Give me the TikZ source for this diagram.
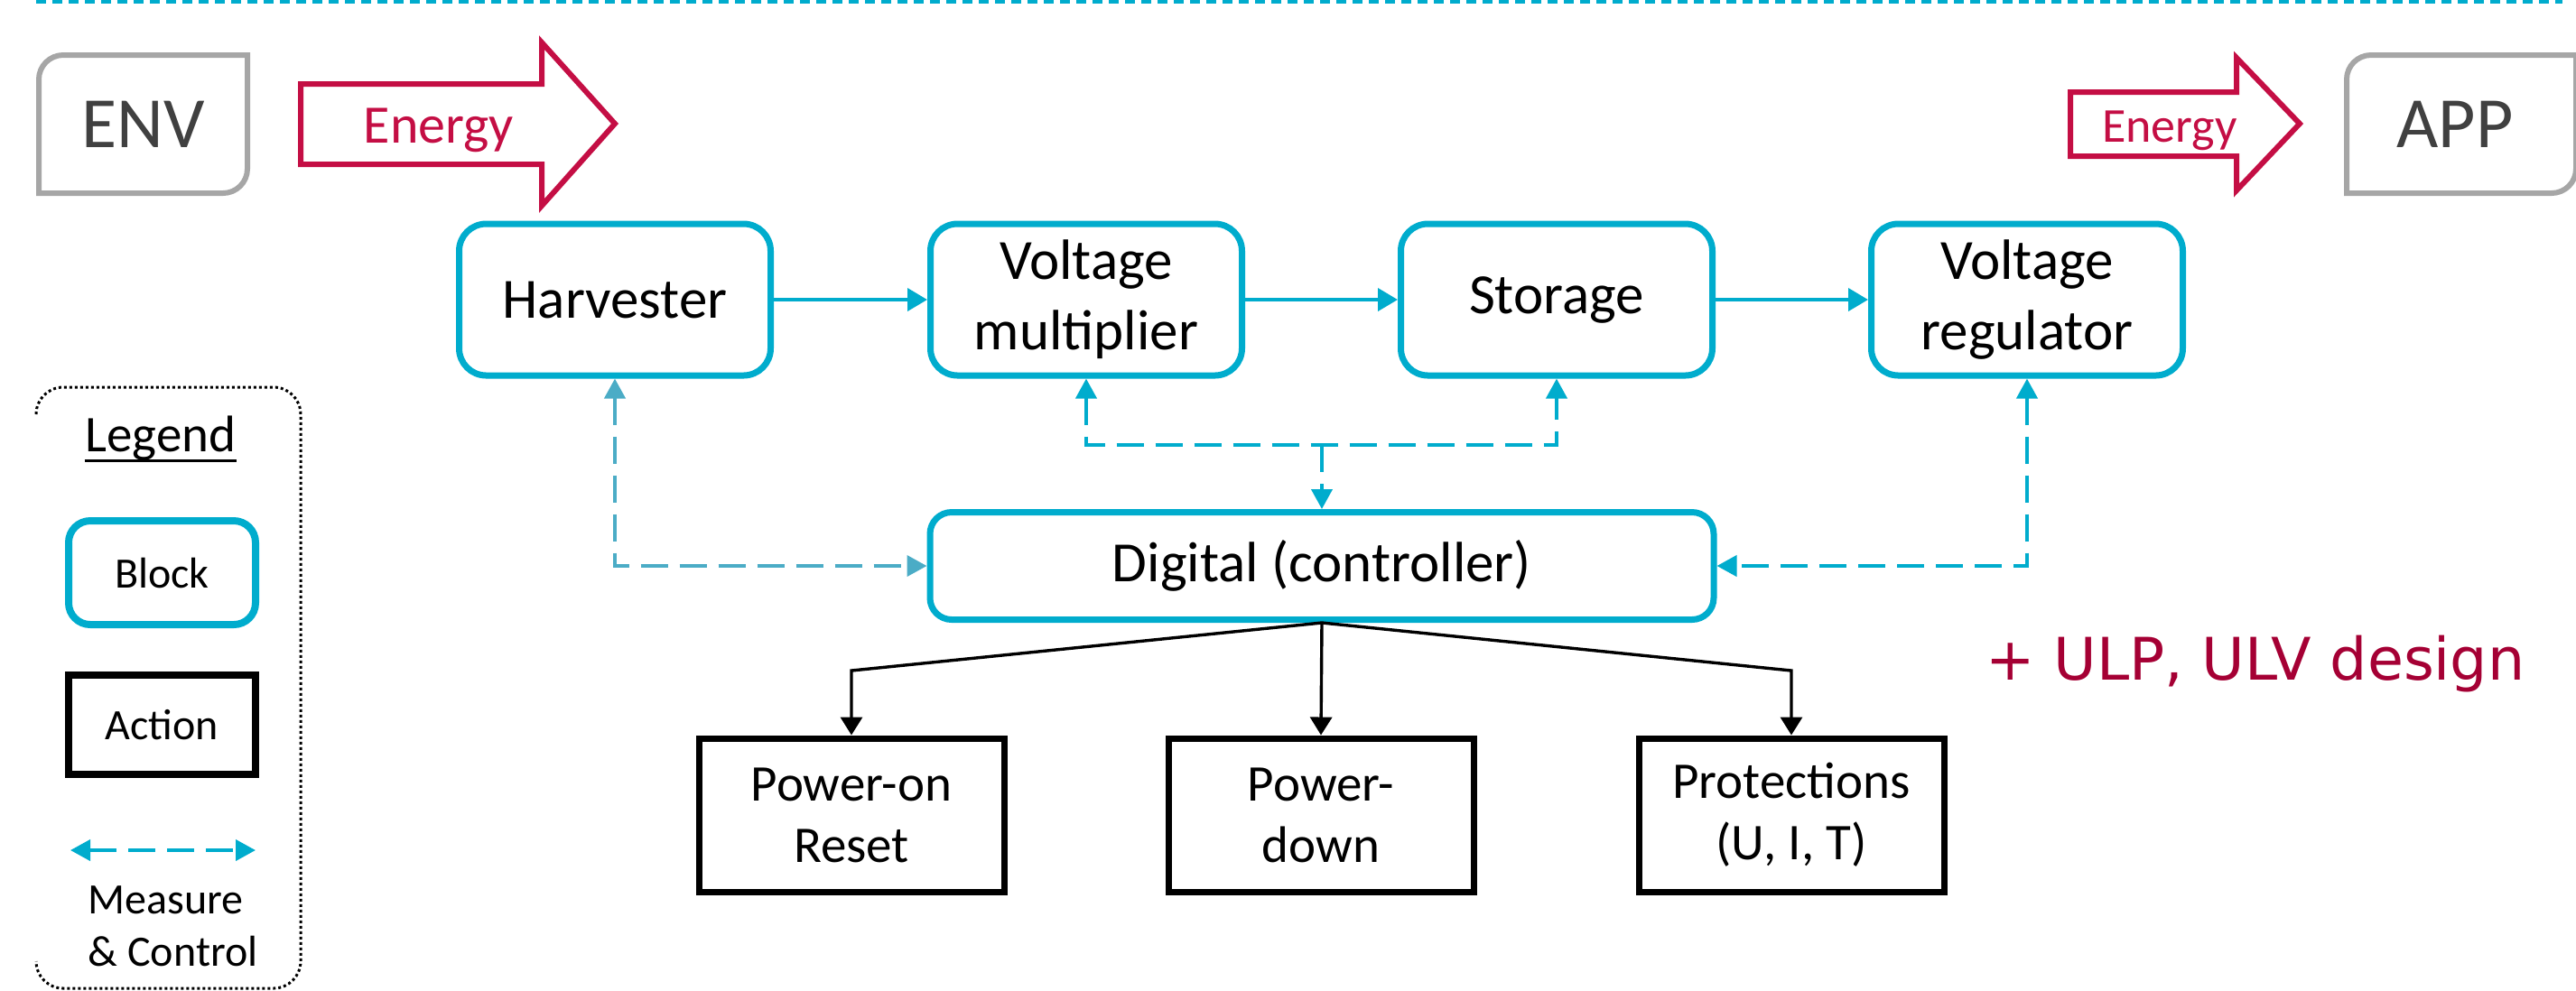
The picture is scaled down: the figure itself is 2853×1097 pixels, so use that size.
\documentclass[tikz,border=0pt]{standalone}
\usepackage{fontspec}
\setmainfont{Carlito}
\newfontfamily\notefont{DejaVu Sans}
\usetikzlibrary{arrows.meta}
\definecolor{blockteal}{RGB}{0,172,205}
\definecolor{softteal}{RGB}{75,172,198}
\definecolor{framegray}{RGB}{166,166,166}
\definecolor{labelgray}{RGB}{64,64,64}
\definecolor{energyred}{RGB}{196,14,68}
\definecolor{notered}{RGB}{165,0,52}
\begin{document}
\begin{tikzpicture}[x=0.25pt,y=-0.25pt,
  blockbox/.style={draw=blockteal, line width=1.75pt, rounded corners=7.5pt, fill=white,
    minimum width=86.25pt, minimum height=42pt, align=center, inner sep=0pt,
    font=\fontsize{15.75}{19.5}\selectfont},
  actbox/.style={draw=black, line width=1.75pt, fill=white, minimum width=84.5pt,
    minimum height=42.5pt, align=center, inner sep=0pt,
    font=\fontsize{14.25}{17}\selectfont},
  flowline/.style={draw=blockteal, line width=1pt, -{Triangle[length=5.5pt,width=6.25pt]}},
  mcline/.style={draw=blockteal, line width=1pt, dash pattern=on 7.5pt off 3.25pt},
  mcboth/.style={mcline, {Triangle[length=5.5pt,width=5.75pt]}-{Triangle[length=5.5pt,width=5.75pt]}},
  mcend/.style={mcline, -{Triangle[length=5.5pt,width=5.75pt]}},
  actline/.style={draw=black, line width=0.85pt, -{Triangle[length=5pt,width=6pt]}},
  framebox/.style={draw=framegray, line width=1.5pt, line join=miter},
  energyarrow/.style={draw=energyred, line width=1.5pt, line join=miter},
  legendframe/.style={draw=black, line width=0.75pt, dash pattern=on 0.75pt off 0.75pt},
  topdash/.style={draw=blockteal, line width=1pt, dash pattern=on 2.75pt off 1.75pt}
]
\useasboundingbox (0,0) rectangle (2853,1097);

% dashed rule along the top edge
\coordinate (ruleL) at (40,2);
\coordinate (ruleR) at (2838,2);
\draw[topdash] (ruleL) -- (ruleR);

% environment and application frames (two rounded diagonal corners)
\draw[framebox] (274,61) -- (274,187) arc[start angle=0,end angle=-90,radius=6.75pt]
  -- (43,214) -- (43,88) arc[start angle=180,end angle=90,radius=6.75pt] -- cycle;
\node[font=\fontsize{20}{24}\selectfont, text=labelgray] (env) at (158.5,138) {ENV};
\draw[framebox] (2853,61) -- (2853,187) arc[start angle=0,end angle=-90,radius=6.75pt]
  -- (2599,214) -- (2599,88) arc[start angle=180,end angle=90,radius=6.75pt] -- cycle;
\node[font=\fontsize{20}{24}\selectfont, text=labelgray] (app) at (2719,138) {APP};

% energy arrows
\draw[energyarrow] (333,93) -- (600,93) -- (600,47) -- (681,137) -- (600,228)
  -- (600,182) -- (333,182) -- cycle;
\node[anchor=base, inner sep=0pt, font=\fontsize{15}{18}\selectfont, text=energyred]
  (energyin) at (486,158) {Energy};
\draw[energyarrow] (2293,102) -- (2477,102) -- (2477,64) -- (2547,137) -- (2477,211)
  -- (2477,173) -- (2293,173) -- cycle;
\node[anchor=base, inner sep=0pt, font=\fontsize{13.5}{16}\selectfont, text=energyred]
  (energyout) at (2403,157) {Energy};

% power chain
\node[blockbox] (harv) at (681,332) {Harvester};
\node[blockbox] (vm) at (1203,332) {Voltage\\multiplier};
\node[blockbox] (sto) at (1724,332) {Storage};
\node[blockbox] (vr) at (2245,332) {Voltage\\regulator};
\node[blockbox, rounded corners=6pt, minimum width=217pt, minimum height=29.75pt]
  (dig) at (1464,627) {Digital (controller)};

\draw[flowline] (harv) -- (vm);
\draw[flowline] (vm) -- (sto);
\draw[flowline] (sto) -- (vr);

% measure & control links
\draw[mcboth, draw=softteal] (harv.south) |- (dig.west);
\coordinate (fork) at (1464,493);
\draw[mcboth] (vm.south) |- (fork) -| (sto.south);
\draw[mcend] (fork) -- (dig.north);
\draw[mcboth] (vr.south) |- (dig.east);

% actions
\node[actbox] (por) at (943,903) {Power-on\\Reset};
\node[actbox] (pd) at (1463,903) {Power-\\down};
\node[actbox] (prot) at (1984,903) {Protections\\(U, I, T)};
\coordinate (lbend) at (943,743);
\coordinate (rbend) at (1984,743);
\draw[actline] (dig.south) -- (lbend) -- (por.north);
\draw[actline] (dig.south) -- (pd.north);
\draw[actline] (dig.south) -- (rbend) -- (prot.north);

% design note
\node[anchor=base, inner sep=0pt, font=\notefont\fontsize{16.25}{19}\selectfont, text=notered]
  (note) at (2498,753) {+ ULP, ULV design};

% legend
\draw[legendframe] (40,459) arc[start angle=180,end angle=90,radius=7.5pt] -- (303,429)
  arc[start angle=90,end angle=0,radius=7.5pt] -- (333,1065)
  arc[start angle=0,end angle=-90,radius=7.5pt] -- (70,1095)
  arc[start angle=-90,end angle=-180,radius=7.5pt];
\node[anchor=base, inner sep=0pt, font=\fontsize{14.25}{17}\selectfont] (legtitle)
  at (178,500) {Legend};
\draw[black, line width=0.9pt] (legtitle.south west) -- (legtitle.south east);
\node[blockbox, rounded corners=6pt, line width=2pt, minimum width=51.75pt, minimum height=28.75pt,
  font=\fontsize{12}{14}\selectfont] (legblock) at (179.5,634.5) {Block};
\node[actbox, line width=2pt, minimum width=51.75pt, minimum height=27.5pt,
  font=\fontsize{12}{14}\selectfont] (legaction) at (179.5,803) {Action};
\coordinate (legmcl) at (78,942);
\coordinate (legmcr) at (283,942);
\draw[mcboth] (legmcl) -- (legmcr);
\node[anchor=base west, inner sep=0pt, font=\fontsize{12}{14}\selectfont] (legmc1)
  at (97,1012) {Measure};
\node[anchor=base west, inner sep=0pt, font=\fontsize{12}{14}\selectfont] (legmc2)
  at (97,1070) {\& Control};
\end{tikzpicture}
\end{document}
